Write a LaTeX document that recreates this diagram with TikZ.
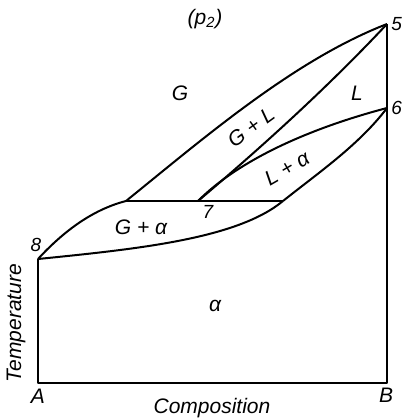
\documentclass[tikz,border=0pt]{standalone}
\usepackage{fontspec}
\setmainfont{Liberation Sans}
\usetikzlibrary{positioning}

\begin{document}
\begin{tikzpicture}[
    x=0.5pt, y=-0.5pt,
    bound/.style={line width=1pt, line join=round},
    region/.style={font=\itshape\fontsize{10.5}{12}\selectfont, inner sep=1pt},
    pt/.style={font=\itshape\fontsize{9.5}{11}\selectfont, inner sep=1pt}
]
    \useasboundingbox (0,0) rectangle (404,418);

    % Corners and special points
    \coordinate (A) at (38,383);
    \coordinate (B) at (387,383);
    \coordinate (p5) at (387,24);
    \coordinate (p6) at (387,108);
    \coordinate (p7) at (198,201);
    \coordinate (p8) at (38,259);
    \coordinate (gl) at (126,201);
    \coordinate (la) at (283,201);

    % Frame and tie line
    \draw[bound] (p8) -- (A) -- (B) -- (p5);
    \draw[bound] (gl) -- (la);

    % G / G+L / L
    \draw[bound] (gl) .. controls (204,138) and (294,60) .. (p5);
    \draw[bound] (p7) .. controls (263,146) and (329,86) .. (p5);

    % L / L+alpha / alpha
    \draw[bound] (p7) .. controls (244,155) and (322,125) .. (p6);
    \draw[bound] (la) .. controls (318,173) and (359,145) .. (p6);

    % G+alpha
    \draw[bound] (p8) .. controls (62,233) and (91,210) .. (gl);
    \draw[bound] (p8) .. controls (137,249) and (237,239) .. (la);

    % Region labels
    \node[region] (press) at (205,19) {(p\textsubscript{2})};
    \node[region] (gas) at (180,93) {G};
    \node[region, rotate=36] (gasliq) at (251,127) {G + L};
    \node[region] (liq) at (357,93) {L};
    \node[region, rotate=30] (liqsol) at (287,168) {L + α};
    \node[region] (gassol) at (141,227) {G + α};
    \node[region] (sol) at (215,306) {α};

    % Point labels
    \node[pt, right=1pt of p5] (n5) {5};
    \node[pt, right=1pt of p6] (n6) {6};
    \node[pt] (n7) at (208,212) {7};
    \node[pt] (n8) at (36,245) {8};
    \node[region] (nA) at (38,396) {A};
    \node[region] (nB) at (386,395) {B};

    % Axes
    \node[region, rotate=90] (temp) at (16,323) {Temperature};
    \node[region] (comp) at (212,408) {Composition};
\end{tikzpicture}
\end{document}
